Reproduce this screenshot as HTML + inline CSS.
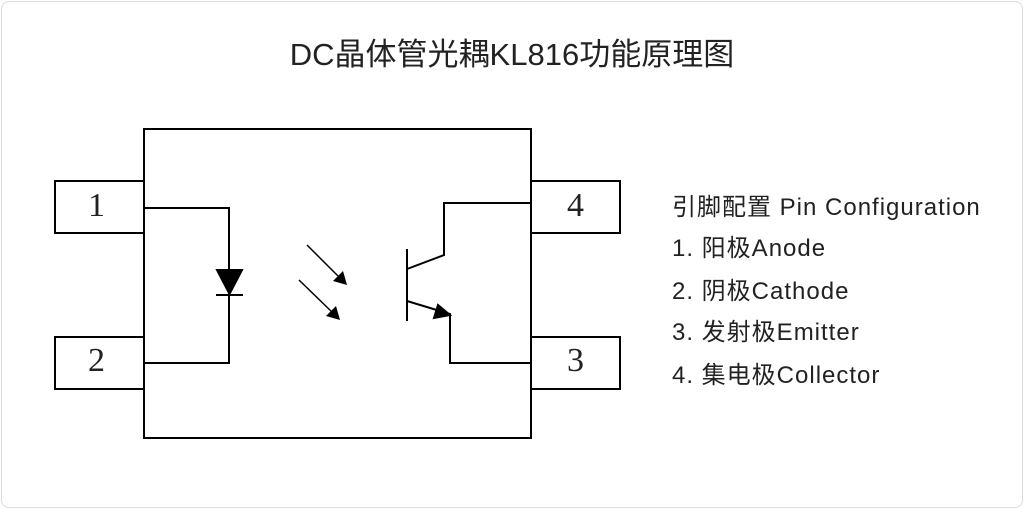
<!DOCTYPE html>
<html><head><meta charset="utf-8"><style>
html,body{margin:0;padding:0;background:#fff;}
body{width:1024px;height:509px;overflow:hidden;position:relative;font-family:"Liberation Sans","Noto Sans CJK SC",sans-serif;}
.frame{position:absolute;left:1px;top:1px;width:1020px;height:505px;border:1px solid #ddd;border-radius:8px;}
.t{position:absolute;white-space:nowrap;color:#222;}
.r{font-size:24px;letter-spacing:1px;}
</style></head><body>
<div class="frame"></div>
<div class="t" style="left:0;width:1024px;text-align:center;top:29px;font-size:31px;">DC晶体管光耦KL816功能原理图</div>
<svg width="1024" height="509" style="position:absolute;left:0;top:0" fill="none" stroke="#000" stroke-width="2">
<rect x="144" y="129" width="387" height="309"/>
<rect x="55" y="181" width="89" height="52"/>
<rect x="55" y="337" width="89" height="52"/>
<rect x="531" y="181" width="89" height="52"/>
<rect x="531" y="337" width="89" height="52"/>
<polyline points="144,208 229,208 229,363 144,363"/>
<polygon points="217,270 242,270 229.5,294" fill="#000"/>
<line x1="216" y1="295" x2="243" y2="295"/>
<line x1="307" y1="245" x2="340" y2="278" stroke-width="1.5"/>
<polygon points="347,285 333,281 343,271" fill="#000" stroke="none"/>
<line x1="299" y1="280" x2="333" y2="313" stroke-width="1.5"/>
<polygon points="340,320 326,316 336,306" fill="#000" stroke="none"/>
<line x1="407" y1="249" x2="407" y2="321"/>
<polyline points="407,269 444,255 444,203 531,203"/>
<polyline points="407,301 450,314 450,363 531,363"/>
<polygon points="450,315 434,318 438,305" fill="#000"/>
</svg>
<div class="t" style="left:88px;top:187px;font-size:34px;font-family:'Liberation Serif',serif;">1</div>
<div class="t" style="left:88px;top:342px;font-size:34px;font-family:'Liberation Serif',serif;">2</div>
<div class="t" style="left:567px;top:187px;font-size:34px;font-family:'Liberation Serif',serif;">4</div>
<div class="t" style="left:567px;top:342px;font-size:34px;font-family:'Liberation Serif',serif;">3</div>
<div class="t r" style="left:672px;top:187px;">引脚配置 Pin Configuration</div>
<div class="t r" style="left:672px;top:228px;">1. 阳极Anode</div>
<div class="t r" style="left:672px;top:271px;">2. 阴极Cathode</div>
<div class="t r" style="left:672px;top:312px;">3. 发射极Emitter</div>
<div class="t r" style="left:672px;top:355px;">4. 集电极Collector</div>
</body></html>
